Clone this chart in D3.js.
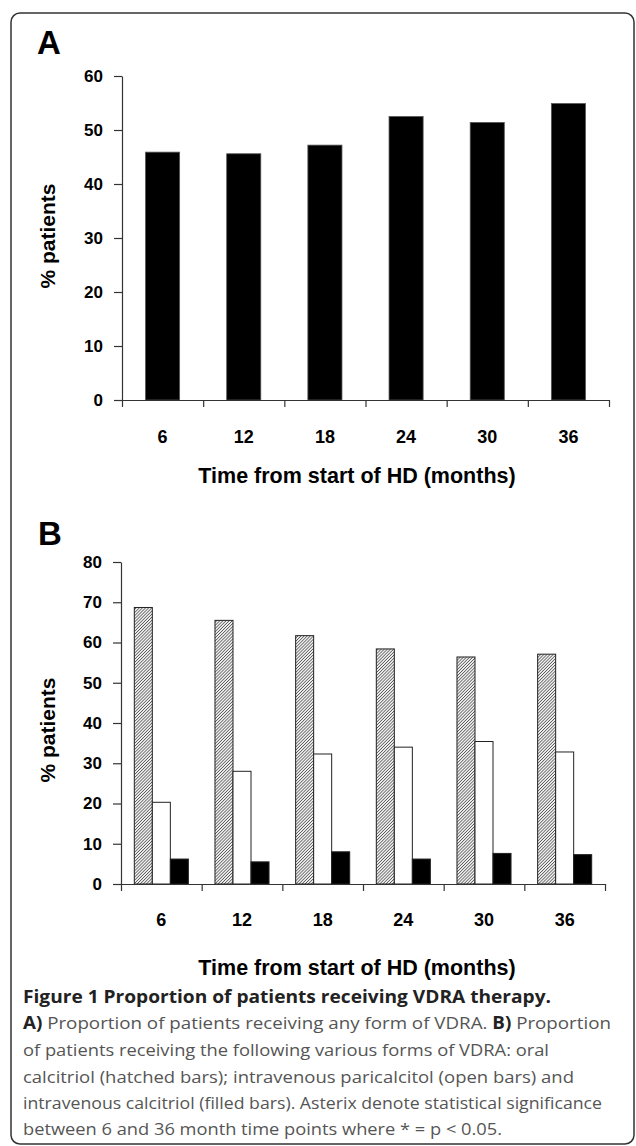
<!DOCTYPE html>
<html>
<head>
<meta charset="utf-8">
<script src="https://cdn.jsdelivr.net/npm/d3@7"></script>
<style>
	body { margin: 0; background: #fff; }
	svg { display: block; }
	.ax text { font-family: "Liberation Sans", Arial, sans-serif; font-weight: bold; fill: #000; }
	.ax path, .ax line { stroke: #333; stroke-width: 1.2; }
	.caption { font-family: "Open Sans", "Noto Sans", sans-serif; font-size: 17px; fill: #555; }
	.caption .b { font-weight: bold; fill: #222; }
</style>
</head>
<body>
<div id="chart"></div>
<script>
// time points (months)
const months = ["6", "12", "18", "24", "30", "36"];

// panel A: any form of VDRA
const anyVdra = [45.9, 45.6, 47.2, 52.5, 51.4, 54.9];

// panel B: forms of VDRA
const series = ["oral calcitriol", "iv paricalcitol", "iv calcitriol"];
const oralCalcitriol = [68.7, 65.5, 61.7, 58.4, 56.4, 57.1];
const ivParicalcitol = [20.3, 28.0, 32.3, 34.0, 35.4, 32.8];
const ivCalcitriol = [6.2, 5.5, 8.0, 6.2, 7.6, 7.3];

const ticksA = [0, 10, 20, 30, 40, 50, 60];
const ticksB = [0, 10, 20, 30, 40, 50, 60, 70, 80];

const captionLines = [
	[["b", "Figure 1 Proportion of patients receiving VDRA therapy."]],
	[["b", "A)"], ["", " Proportion of patients receiving any form of VDRA. "], ["b", "B)"], ["", " Proportion"]],
	[["", "of patients receiving the following various forms of VDRA: oral"]],
	[["", "calcitriol (hatched bars); intravenous paricalcitol (open bars) and"]],
	[["", "intravenous calcitriol (filled bars). Asterix denote statistical significance"]],
	[["", "between 6 and 36 month time points where * = p < 0.05."]]
];

const W = 636, H = 1146;

let svg = d3.select("#chart").append("svg")
	.attr("width", W)
	.attr("height", H);

// hatch for oral calcitriol bars
let defs = svg.append("defs");
let pat = defs.append("pattern")
	.attr("id", "hatch")
	.attr("patternUnits", "userSpaceOnUse")
	.attr("width", 2.2)
	.attr("height", 2.2)
	.attr("patternTransform", "rotate(45)");
pat.append("rect").attr("width", 2.2).attr("height", 2.2).attr("fill", "#eee");
pat.append("line")
	.attr("x1", 0).attr("y1", 0).attr("x2", 0).attr("y2", 2.2)
	.attr("stroke", "#333").attr("stroke-width", 1.2);

// outer frame
svg.append("rect")
	.attr("x", 11).attr("y", 13)
	.attr("width", 623).attr("height", 1131)
	.attr("rx", 9)
	.attr("fill", "none")
	.attr("stroke", "#333")
	.attr("stroke-width", 1.5);

function drawAxes(g, x, y, yTicks, labelY, titleY, yTitleCenter) {
	let x0 = x.range()[0], x1 = x.range()[1];
	let y0 = y.range()[0];

	// y axis
	g.append("g")
		.attr("class", "ax")
		.attr("transform", "translate(" + x0 + ",0)")
		.call(d3.axisLeft(y).tickValues(yTicks).tickSize(8).tickPadding(11).tickSizeOuter(0))
		.selectAll("text").style("font-size", "17px");

	// x axis: ticks at band edges
	let edge = d3.scaleLinear().domain([0, months.length]).range([x0, x1]);
	g.append("g")
		.attr("class", "ax")
		.attr("transform", "translate(0," + y0 + ")")
		.call(d3.axisBottom(edge).tickValues(d3.range(months.length + 1)).tickSize(7).tickSizeOuter(0).tickFormat(""));

	// month labels centred in bands
	g.append("g")
		.attr("class", "ax")
		.selectAll("text")
		.data(months)
		.join("text")
		.attr("x", d => x(d) + x.bandwidth() / 2)
		.attr("y", labelY)
		.attr("text-anchor", "middle")
		.style("font-size", "18px")
		.text(d => d);

	let t = g.append("g").attr("class", "ax");
	t.append("text")
		.attr("x", 357)
		.attr("y", titleY)
		.attr("text-anchor", "middle")
		.style("font-size", "21.5px")
		.text("Time from start of HD (months)");
	t.append("text")
		.attr("transform", "rotate(-90)")
		.attr("x", -yTitleCenter)
		.attr("y", 55)
		.attr("text-anchor", "middle")
		.style("font-size", "21px")
		.text("% patients");
}

// ---- panel A ----
let gA = svg.append("g");
gA.append("text")
	.attr("class", "ax").attr("x", 37).attr("y", 54)
	.style("font-family", "Liberation Sans, Arial, sans-serif")
	.style("font-weight", "bold").style("font-size", "33px")
	.text("A");

let xA = d3.scaleBand().domain(months).range([122, 609]).paddingInner(0.58).paddingOuter(0.29);
let yA = d3.scaleLinear().domain([0, 60]).range([400, 76]);

gA.selectAll("rect.bar")
	.data(anyVdra)
	.join("rect")
	.attr("class", "bar")
	.attr("x", (d, i) => xA(months[i]))
	.attr("y", d => yA(d))
	.attr("width", xA.bandwidth())
	.attr("height", d => yA(0) - yA(d))
	.attr("fill", "#000")
	.attr("stroke", "#555")
	.attr("stroke-width", 0.8);

drawAxes(gA, xA, yA, ticksA, 443, 483, 236);

// ---- panel B ----
let gB = svg.append("g");
gB.append("text")
	.attr("x", 38).attr("y", 545)
	.style("font-family", "Liberation Sans, Arial, sans-serif")
	.style("font-weight", "bold").style("font-size", "33px")
	.text("B");

let xB = d3.scaleBand().domain(months).range([121, 605]).paddingInner(0.33).paddingOuter(0.165);
let xSub = d3.scaleBand().domain(series).range([0, xB.bandwidth()]);
let yB = d3.scaleLinear().domain([0, 80]).range([884, 562]);

let valuesB = [oralCalcitriol, ivParicalcitol, ivCalcitriol];
let fillsB = ["url(#hatch)", "#fff", "#000"];

let rows = [];
months.forEach((m, i) => {
	series.forEach((s, j) => {
		rows.push({ month: m, series: s, value: valuesB[j][i], fill: fillsB[j] });
	});
});

gB.selectAll("rect.bar")
	.data(rows)
	.join("rect")
	.attr("class", "bar")
	.attr("x", d => xB(d.month) + xSub(d.series))
	.attr("y", d => yB(d.value))
	.attr("width", xSub.bandwidth())
	.attr("height", d => yB(0) - yB(d.value))
	.attr("fill", d => d.fill)
	.attr("stroke", "#222")
	.attr("stroke-width", 1);

drawAxes(gB, xB, yB, ticksB, 926, 975, 730);

// ---- caption ----
const capY = [1003, 1029, 1056, 1083, 1109, 1135];
const capLen = [528, 588, 526, 551, 579, 479];

let cap = svg.append("g").attr("class", "caption");
captionLines.forEach((parts, i) => {
	let t = cap.append("text")
		.attr("x", 23)
		.attr("y", capY[i])
		.attr("textLength", capLen[i])
		.attr("lengthAdjust", "spacingAndGlyphs")
		.style("font-size", i == 0 ? "18px" : "17px");
	parts.forEach(p => {
		t.append("tspan").attr("class", p[0]).text(p[1]);
	});
});
</script>
</body>
</html>
